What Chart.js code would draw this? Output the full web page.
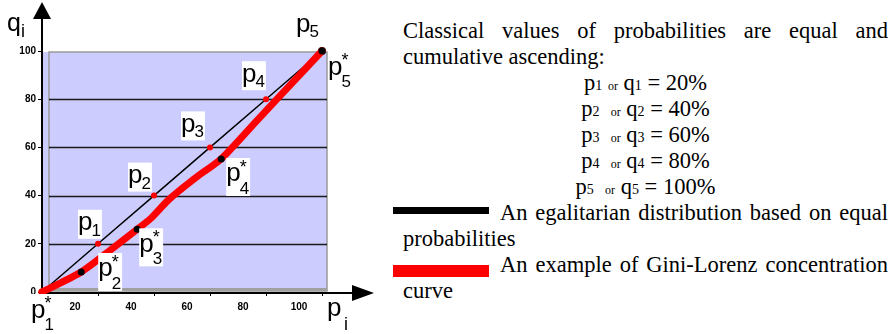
<!DOCTYPE html>
<html>
<head>
<meta charset="utf-8">
<script src="https://cdn.jsdelivr.net/npm/chart.js@4"></script>
<style>
body{margin:0;width:894px;height:334px;position:relative;background:#fff;overflow:hidden}
#grafico{position:absolute;left:0;top:0}
#texto{position:absolute;left:403px;top:18px;width:485px;font:22.5px/26px "Liberation Serif","Times New Roman",serif;color:#000}
#texto p{margin:0;text-align:justify}
#texto .c{text-align:center;height:26px}
#texto .c small{font-size:14px;line-height:10px}
#texto .c .or{font-size:12px;line-height:10px}
#texto .leg{text-indent:-10px}
.bar{display:inline-block;width:96px;margin-right:11px}
.bar.negra{height:7px;background:#000;vertical-align:6px}
.bar.roja{height:12px;background:#f00;vertical-align:-5px}
</style>
</head>
<body>
<canvas id="grafico" width="390" height="334"></canvas>
<div id="texto">
<p>Classical values of probabilities are equal and cumulative ascending:</p>
<div id="valores"></div>
<p class="leg"><span class="bar negra"></span>An egalitarian distribution based on equal probabilities</p>
<p class="leg"><span class="bar roja"></span>An example of Gini-Lorenz concentration curve</p>
</div>
<script>

// Datos

const valoresClasicos = [20, 40, 60, 80, 100];

const egalX = [0, 20, 40, 60, 80, 100];
const egalY = [0, 20, 40, 60, 80, 100];

const lorenzX = [0, 7, 14, 24, 34, 39, 45, 55, 64, 68, 77, 86, 100];
const lorenzY = [0, 4, 8.3, 17, 26, 30.7, 38, 47.5, 55.2, 60, 71.4, 82.6, 100];

const estrellaX = [0, 14, 34, 64, 100];
const estrellaY = [0, 8.3, 26, 55.2, 100];

const etiquetasEgal = ["", "1", "2", "3", "4", "5"];
const etiquetasEstrella = ["1", "2", "3", "4", "5"];

const ticksEje = [0, 20, 40, 60, 80, 100];


// Posición de las etiquetas respecto al punto (px)

const posEgal = [null, [-18, -27], [-24, -26], [-27, -29], [-22, -31], [-24, -33]];
const posEstrella = [[-9, 4], [19, -17], [4, 1], [7, 1], [8, 2]];


// Líneas de valores clásicos

document.getElementById("valores").innerHTML = valoresClasicos.map(function(v, i){
    const n = i + 1;
    const sep = n === 1 ? " " : "&nbsp; ";
    return '<div class="c">p<small>' + n + '</small>' + sep + '<span class="or">or</span> q<small>' + n + '</small> = ' + v + '%</div>';
}).join("");


const fuente = '"Liberation Sans", Arial, sans-serif';

function puntos(xs, ys){
    return xs.map(function(x, i){ return {x: x, y: ys[i]}; });
}

function etiqueta(ctx, x, T, sub, estrella){

    ctx.font = "26px " + fuente;
    const pw = ctx.measureText("p").width;
    ctx.font = "17px " + fuente;
    const sw = ctx.measureText(sub).width;

    const base = estrella ? T + 21.5 : T + 13.5;
    const baseSub = estrella ? T + 34 : T + 19;

    ctx.fillStyle = "#fff";
    if(estrella){
        ctx.fillRect(x - 2, T - 2, pw + sw, 38);
    }else{
        ctx.fillRect(x - 2, T - 7, pw + sw, 29);
    }

    ctx.fillStyle = "#000";
    ctx.textAlign = "left";
    ctx.textBaseline = "alphabetic";
    ctx.font = "26px " + fuente;
    ctx.fillText("p", x - 2, base);
    ctx.font = "17px " + fuente;
    ctx.fillText(sub, x + pw - 3, baseSub);

    if(estrella){
        ctx.font = "18px " + fuente;
        ctx.fillText("*", x + pw - 3, T + 13);
    }
}

const decoracion = {

    id: "decoracion",

    beforeDatasetsDraw: function(chart){

        const ctx = chart.ctx;
        const a = chart.chartArea;
        const y = chart.scales.y;

        ctx.save();

        // fondo lila
        const L = a.left + 7, R = a.right + 5, T = a.top + 1, B = a.bottom - 1;
        ctx.fillStyle = "#ccccff";
        ctx.fillRect(a.left, T, R - a.left, B - T);
        ctx.strokeStyle = "#9a9a9a";
        ctx.lineWidth = 1.5;
        ctx.strokeRect(L, T, R - L, B - T);
        ctx.fillStyle = "#a0a0a0";
        ctx.fillRect(L, B - 3, R - L, 3);

        // líneas horizontales
        ctx.strokeStyle = "#1a1a1a";
        ctx.lineWidth = 1.5;
        y.ticks.forEach(function(t){
            if(t.value > 0 && t.value < 100){
                const py = Math.round(y.getPixelForValue(t.value)) + 0.5;
                ctx.beginPath();
                ctx.moveTo(L, py);
                ctx.lineTo(R, py);
                ctx.stroke();
            }
        });

        // ejes con flechas
        ctx.strokeStyle = "#000";
        ctx.fillStyle = "#000";
        ctx.lineWidth = 2;
        ctx.beginPath();
        ctx.moveTo(a.left, a.bottom + 1);
        ctx.lineTo(a.left, a.top - 33);
        ctx.moveTo(a.left, a.bottom + 1);
        ctx.lineTo(a.right + 30, a.bottom + 1);
        ctx.stroke();

        ctx.beginPath();
        ctx.moveTo(a.left, a.top - 49);
        ctx.lineTo(a.left - 9, a.top - 32);
        ctx.lineTo(a.left + 9, a.top - 32);
        ctx.closePath();
        ctx.fill();

        ctx.beginPath();
        ctx.moveTo(a.right + 52, a.bottom + 1);
        ctx.lineTo(a.right + 30, a.bottom - 7);
        ctx.lineTo(a.right + 30, a.bottom + 9);
        ctx.closePath();
        ctx.fill();

        // títulos de ejes
        ctx.textAlign = "left";
        ctx.textBaseline = "alphabetic";
        ctx.font = "25px " + fuente;
        ctx.fillText("q", a.left - 35, a.top - 20);
        ctx.font = "18px " + fuente;
        ctx.fillText("i", a.left - 21, a.top - 14);
        ctx.font = "26px " + fuente;
        ctx.fillText("p", a.right + 5, a.bottom + 24);
        ctx.font = "18px " + fuente;
        ctx.fillText("i", a.right + 22, a.bottom + 38);

        ctx.restore();
    },

    afterDatasetsDraw: function(chart){

        const ctx = chart.ctx;
        const x = chart.scales.x;
        const y = chart.scales.y;

        ctx.save();

        egalX.forEach(function(v, i){
            if(!etiquetasEgal[i]) return;
            const px = x.getPixelForValue(v) + posEgal[i][0];
            const py = y.getPixelForValue(egalY[i]) + posEgal[i][1];
            etiqueta(ctx, px, py, etiquetasEgal[i], false);
        });

        estrellaX.forEach(function(v, i){
            const px = x.getPixelForValue(v) + posEstrella[i][0];
            const py = y.getPixelForValue(estrellaY[i]) + posEstrella[i][1];
            etiqueta(ctx, px, py, etiquetasEstrella[i], true);
        });

        ctx.restore();
    }
};


// Crear gráfico

new Chart(document.getElementById("grafico"), {

    type: "scatter",

    data: {

        datasets: [

            {
                data: puntos(egalX, egalY),
                showLine: true,
                borderColor: "#000",
                borderWidth: 1.5,
                pointRadius: [0, 3, 3, 3, 3, 4],
                pointBackgroundColor: ["#f00", "#f00", "#f00", "#f00", "#f00", "#000"],
                pointBorderWidth: 0,
                clip: false,
                order: 3
            },

            {
                data: puntos(lorenzX, lorenzY),
                showLine: true,
                borderColor: "#ff0000",
                borderWidth: 7,
                borderCapStyle: "round",
                borderJoinStyle: "round",
                cubicInterpolationMode: "monotone",
                pointRadius: 0,
                clip: false,
                order: 2
            },

            {
                data: puntos(estrellaX, estrellaY),
                showLine: false,
                pointRadius: 3.5,
                pointBackgroundColor: ["#f00", "#000", "#000", "#000", "#000"],
                pointBorderWidth: 0,
                clip: false,
                order: 1
            }

        ]

    },

    options: {

        responsive: false,
        animation: false,
        events: [],

        layout: {
            padding: {top: 51, right: 68, left: 0, bottom: 0}
        },

        plugins: {
            legend: {display: false},
            tooltip: {enabled: false}
        },

        scales: {

            x: {
                type: "linear",
                min: 0,
                max: 100,
                afterBuildTicks: function(s){
                    s.ticks = ticksEje.map(function(v){ return {value: v}; });
                },
                afterFit: function(s){ s.height = 42; },
                ticks: {
                    labelOffset: -23,
                    padding: 5,
                    maxRotation: 0,
                    color: "#000",
                    font: {size: 10, weight: "bold", family: "Liberation Sans"},
                    callback: function(v){ return v === 0 ? "" : v; }
                },
                grid: {
                    drawOnChartArea: false,
                    tickLength: 4,
                    color: "#000"
                },
                border: {display: false}
            },

            y: {
                min: 0,
                max: 100,
                afterBuildTicks: function(s){
                    s.ticks = ticksEje.map(function(v){ return {value: v}; });
                },
                afterFit: function(s){ s.width = 42; },
                ticks: {
                    padding: 2,
                    color: "#000",
                    font: {size: 10, weight: "bold", family: "Liberation Sans"}
                },
                grid: {
                    drawOnChartArea: false,
                    tickLength: 4,
                    color: "#000"
                },
                border: {display: false}
            }

        }

    },

    plugins: [decoracion]

});

</script>
</body>
</html>
